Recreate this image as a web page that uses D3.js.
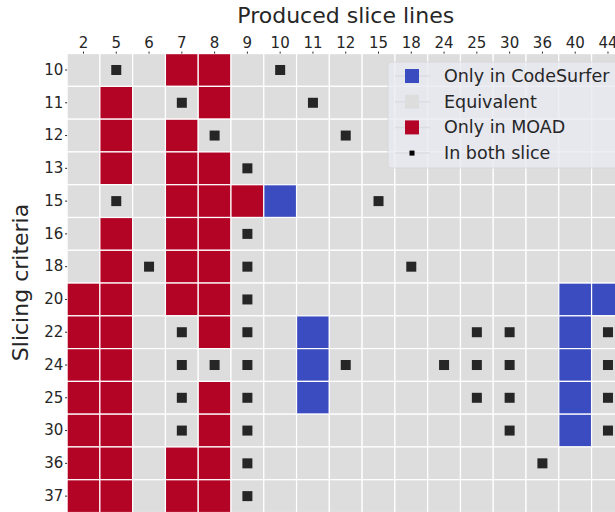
<!DOCTYPE html>
<html>
<head>
<meta charset="utf-8">
<script src="https://cdn.jsdelivr.net/npm/d3@7"></script>
<style>
  html, body { margin: 0; padding: 0; background: #ffffff; }
  svg { display: block; font-family: "DejaVu Sans", sans-serif; }
</style>
</head>
<body>
<svg id="chart" width="615" height="512"></svg>
<script>
// Column (produced slice lines) and row (slicing criteria) labels
const columns = ["2","5","6","7","8","9","10","11","12","15","18","24","25","30","36","40","44"];
const rows = ["10","11","12","13","15","16","18","20","22","24","25","30","36","37"];

// -1 = only in CodeSurfer, 0 = equivalent, 1 = only in MOAD (one array per row)
const row10 = [0,0,0,1,1,0,0,0,0,0,0,0,0,0,0,0,0];
const row11 = [0,1,0,0,1,0,0,0,0,0,0,0,0,0,0,0,0];
const row12 = [0,1,0,1,0,0,0,0,0,0,0,0,0,0,0,0,0];
const row13 = [0,1,0,1,1,0,0,0,0,0,0,0,0,0,0,0,0];
const row15 = [0,0,0,1,1,1,-1,0,0,0,0,0,0,0,0,0,0];
const row16 = [0,1,0,1,1,0,0,0,0,0,0,0,0,0,0,0,0];
const row18 = [0,1,0,1,1,0,0,0,0,0,0,0,0,0,0,0,0];
const row20 = [1,1,0,1,1,0,0,0,0,0,0,0,0,0,0,-1,-1];
const row22 = [1,1,0,0,1,0,0,-1,0,0,0,0,0,0,0,-1,0];
const row24 = [1,1,0,0,0,0,0,-1,0,0,0,0,0,0,0,-1,0];
const row25 = [1,1,0,0,1,0,0,-1,0,0,0,0,0,0,0,-1,0];
const row30 = [1,1,0,0,1,0,0,0,0,0,0,0,0,0,0,-1,0];
const row36 = [1,1,0,1,1,0,0,0,0,0,0,0,0,0,0,0,0];
const row37 = [1,1,0,1,1,0,0,0,0,0,0,0,0,0,0,0,0];
const status = [row10,row11,row12,row13,row15,row16,row18,row20,row22,row24,row25,row30,row36,row37];

// Lines present in both slices, per row
const inBoth = [
  ["5","10"], ["7","11"], ["8","12"], ["9"], ["5","15"], ["9"], ["6","9","18"],
  ["9"], ["7","9","25","30","44"], ["7","8","9","12","24","25","30","44"],
  ["7","9","25","30","44"], ["7","9","30","44"], ["9","36"], ["9"]
];

const legendLabels = ["Only in CodeSurfer", "Equivalent", "Only in MOAD", "In both slice"];
const statusValues = [-1, 0, 1];

const svg = d3.select("#chart");
const cell = 32.78;
const plotLeft = 67.1, plotTop = 53.6;

const x = d3.scaleBand().domain(columns).range([plotLeft, plotLeft + columns.length * cell]);
const y = d3.scaleBand().domain(rows).range([plotTop, plotTop + rows.length * cell]);
const color = d3.scaleOrdinal().domain(statusValues).range(["#3b4cc0", "#dddddd", "#b40426"]);

const cells = [];
rows.forEach((r, i) => columns.forEach((c, j) => cells.push({r, c, v: status[i][j]})));

svg.append("g").selectAll("rect").data(cells).join("rect")
  .attr("x", d => x(d.c)).attr("y", d => y(d.r))
  .attr("width", x.bandwidth()).attr("height", y.bandwidth())
  .attr("fill", d => color(d.v))
  .attr("stroke", "#ffffff").attr("stroke-width", 1.2);

const marks = [];
rows.forEach((r, i) => inBoth[i].forEach(c => marks.push({r, c})));
const ms = 10;
svg.append("g").selectAll("rect").data(marks).join("rect")
  .attr("x", d => x(d.c) + x.bandwidth() / 2 - ms / 2)
  .attr("y", d => y(d.r) + y.bandwidth() / 2 - ms / 2)
  .attr("width", ms).attr("height", ms)
  .attr("fill", "#262626");

// Axes
const xAxis = svg.append("g").attr("transform", `translate(0,${plotTop})`)
  .call(d3.axisTop(x).tickSize(2).tickPadding(3.6));
const yAxis = svg.append("g").attr("transform", `translate(${plotLeft},0)`)
  .call(d3.axisLeft(y).tickSize(2).tickPadding(1.8));
[xAxis, yAxis].forEach(a => {
  a.select(".domain").remove();
  a.selectAll(".tick line").attr("stroke", "#262626").attr("stroke-width", 1);
  a.selectAll(".tick text").attr("fill", "#262626")
    .style("font-size", "15px").style("font-family", "DejaVu Sans");
});

// Titles
svg.append("text").attr("x", plotLeft + columns.length * cell / 2).attr("y", 22.7)
  .attr("text-anchor", "middle").attr("fill", "#262626")
  .style("font-size", "22px").text("Produced slice lines");
svg.append("text").attr("transform", "translate(28,282.5) rotate(-90)")
  .attr("text-anchor", "middle").attr("fill", "#262626")
  .style("font-size", "22px").text("Slicing criteria");

// Legend
const lg = svg.append("g");
lg.append("rect").attr("x", 388).attr("y", 62).attr("width", 260).attr("height", 106)
  .attr("rx", 4).attr("fill", "#eaeaf2").attr("fill-opacity", 0.8)
  .attr("stroke", "#d6d6d6").attr("stroke-opacity", 0.8);
legendLabels.forEach((lab, i) => {
  const cy = 76 + i * 25.7;
  lg.append("line").attr("x1", 395).attr("x2", 430).attr("y1", cy).attr("y2", cy)
    .attr("stroke", "#dcdce2").attr("stroke-width", 1.5);
  if (i < 3) {
    lg.append("rect").attr("x", 405).attr("y", cy - 7).attr("width", 14).attr("height", 14)
      .attr("fill", color(statusValues[i]));
  } else {
    lg.append("rect").attr("x", 409.5).attr("y", cy - 2.5).attr("width", 5).attr("height", 5)
      .attr("fill", "#000000");
  }
  lg.append("text").attr("x", 444).attr("y", cy + 6).attr("fill", "#262626")
    .style("font-size", "17.5px").text(lab);
});
</script>
</body>
</html>
